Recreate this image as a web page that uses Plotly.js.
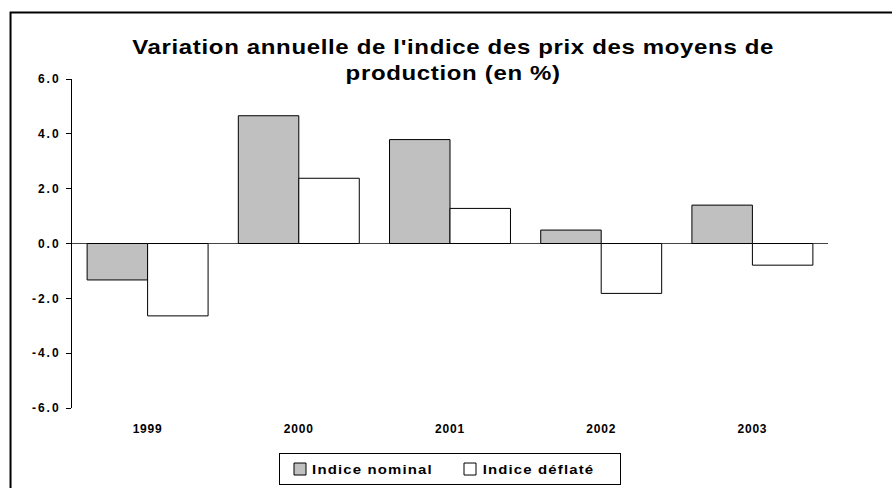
<!DOCTYPE html>
<html>
<head>
<meta charset="utf-8">
<script src="https://cdn.plot.ly/plotly-3.0.1.min.js"></script>
<style>
html,body{margin:0;padding:0;background:#fff;}
#chart{width:892px;height:488px;}
#chart .gtitle{letter-spacing:0.55px;transform-box:fill-box;transform-origin:center;transform:scaleX(1.2);}
#chart .xtick text{letter-spacing:0.8px;}
#chart .ytick text{letter-spacing:2px;}
#chart .legendtext{letter-spacing:1px;transform-box:fill-box;transform-origin:center;transform:scaleX(1.15);}
</style>
</head>
<body>
<div id="chart"></div>
<script>
const years = ["1999", "2000", "2001", "2002", "2003"];
const nominal = [-1.33, 4.66, 3.79, 0.49, 1.40];
const deflate = [-2.64, 2.38, 1.28, -1.82, -0.79];
const seriesNames = ["Indice nominal", "Indice déflaté"];
const yTickVals = [-6, -4, -2, 0, 2, 4, 6];
const yTickText = ["-6.0", "-4.0", "-2.0", "0.0", "2.0", "4.0", "6.0"];
const titleText = "Variation annuelle de l'indice des prix des moyens de<br>production (en %)";

const font = "Liberation Sans, Arial, sans-serif";
const traces = [
  {type: "bar", name: seriesNames[0], x: years, y: nominal,
   marker: {color: "#c0c0c0", line: {color: "#000", width: 1}}},
  {type: "bar", name: seriesNames[1], x: years, y: deflate,
   marker: {color: "#ffffff", line: {color: "#000", width: 1}}}
];
const layout = {
  width: 892, height: 488,
  margin: {l: 72, r: 64, t: 79, b: 80, pad: 0, autoexpand: false},
  paper_bgcolor: "#fff", plot_bgcolor: "#fff",
  font: {family: font, color: "#000"},
  title: {text: "<b>" + titleText + "</b>", font: {family: font, size: 20, color: "#000"},
          x: 0.508, xanchor: "center", y: 0.89, yanchor: "top"},
  barmode: "group", bargap: 0.2, bargroupgap: 0,
  showlegend: true,
  legend: {orientation: "h", x: 0.5, xanchor: "center", y: -0.137, yanchor: "top",
           bordercolor: "#000", borderwidth: 1, font: {family: font, size: 13, weight: "bold"},
           traceorder: "normal", entrywidth: 125},
  xaxis: {type: "category", showline: false, showgrid: false, zeroline: false, ticks: "",
          tickfont: {family: font, size: 12, weight: "bold"}, ticklabelstandoff: 12},
  yaxis: {range: [-6, 6], tickmode: "array", tickvals: yTickVals, ticktext: yTickText,
          showgrid: false,
          zeroline: true, zerolinecolor: "#444", zerolinewidth: 1,
          showline: true, linecolor: "#000", linewidth: 1,
          ticks: "outside", ticklen: 5, tickcolor: "#000", ticklabelstandoff: 3,
          tickfont: {family: font, size: 12, weight: "bold"}},
  shapes: [
    {type: "rect", xref: "paper", yref: "paper", x0: -0.0813, x1: 1.5, y0: -0.6, y1: 1.2021,
     line: {color: "#000", width: 2}, fillcolor: "rgba(0,0,0,0)", layer: "above"}
  ]
};
Plotly.newPlot("chart", traces, layout, {displayModeBar: false, staticPlot: true});
</script>
</body>
</html>
